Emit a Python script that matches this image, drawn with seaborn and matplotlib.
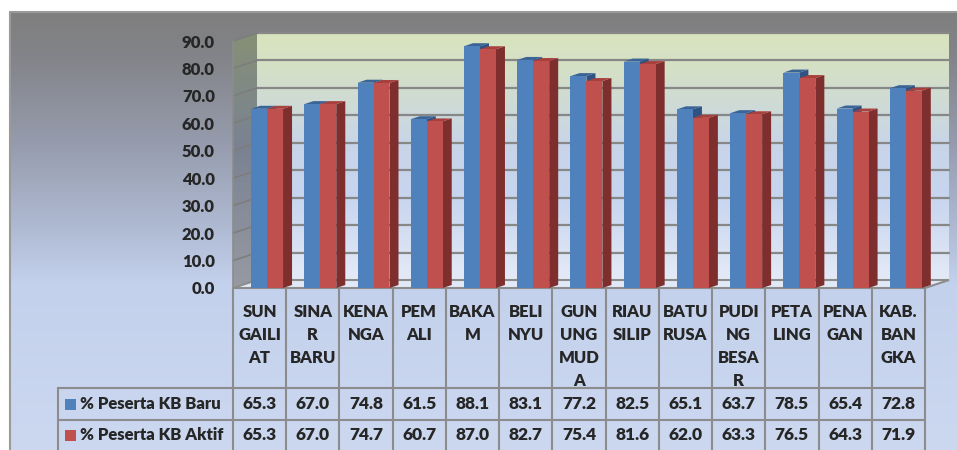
import numpy as np
import pandas as pd
import matplotlib
matplotlib.use('Agg')
import matplotlib.pyplot as plt
import seaborn as sns
from matplotlib.patches import Polygon, Rectangle

# data
kecamatan = ['SUNGAILIAT', 'SINAR BARU', 'KENANGA', 'PEMALI', 'BAKAM', 'BELINYU',
             'GUNUNG MUDA', 'RIAU SILIP', 'BATURUSA', 'PUDING BESAR', 'PETALING',
             'PENAGAN', 'KAB. BANGKA']
label_kolom = ['SUN\nGAILI\nAT', 'SINA\nR\nBARU', 'KENA\nNGA', 'PEM\nALI', 'BAKA\nM',
               'BELI\nNYU', 'GUN\nUNG\nMUD\nA', 'RIAU\nSILIP', 'BATU\nRUSA',
               'PUDI\nNG\nBESA\nR', 'PETA\nLING', 'PENA\nGAN', 'KAB.\nBAN\nGKA']
kb_baru = [65.3, 67.0, 74.8, 61.5, 88.1, 83.1, 77.2, 82.5, 65.1, 63.7, 78.5, 65.4, 72.8]
kb_aktif = [65.3, 67.0, 74.7, 60.7, 87.0, 82.7, 75.4, 81.6, 62.0, 63.3, 76.5, 64.3, 71.9]
seri = ['% Peserta KB Baru', '% Peserta KB Aktif']
y_ticks = [0, 10, 20, 30, 40, 50, 60, 70, 80, 90]

warna = ['#4f81bd', '#c0504d']
warna_atas = ['#3a6396', '#a8403d']
warna_sisi = ['#2f5283', '#7e2f2d']

sns.set_style('white')
plt.rcParams['font.family'] = ['Lato', 'DejaVu Sans']
TEBAL = 'heavy'

W, H = 957, 450
fig = plt.figure(figsize=(W / 100, H / 100), dpi=100)
bg = fig.add_axes([0, 0, 1, 1])
bg.set_autoscale_on(False)
bg.set_xlim(0, W)
bg.set_ylim(H, 0)
bg.axis('off')


def gradient(stops, x0, x1, y0, y1, clip=None, z=0):
    t = np.linspace(0, 1, 256)
    pos = [s[0] for s in stops]
    cols = np.stack([np.interp(t, pos, [s[1][c] for s in stops]) for c in range(3)], axis=-1) / 255
    im = bg.imshow(cols[:, None, :], extent=[x0, x1, y1, y0], aspect='auto',
                   interpolation='bilinear', zorder=z)
    if clip is not None:
        im.set_clip_path(Polygon(clip, transform=bg.transData))
    return im


# outer chart background
gradient([(0, (127, 127, 127)), (0.1, (131, 132, 137)), (0.3, (150, 156, 173)),
          (0.5, (176, 187, 212)), (0.62, (196, 209, 236)), (1, (204, 216, 240))],
         10, W, 12, H, z=0)
bg.plot([10, 10], [12, H], color='#9a9a9a', lw=1.5, zorder=1)
bg.plot([10, W], [12, 12], color='#9a9a9a', lw=1.5, zorder=1)

# plot area (front plane)
ax = fig.add_axes([233 / W, (H - 288) / H, 692 / W, 247 / H])
ax.patch.set_alpha(0)

df = pd.DataFrame({'Kecamatan': kecamatan * 2,
                   'Nilai': kb_baru + kb_aktif,
                   'Seri': [seri[0]] * len(kecamatan) + [seri[1]] * len(kecamatan)})
sns.barplot(data=df, x='Kecamatan', y='Nilai', hue='Seri', palette=warna, width=0.6,
            saturation=1, linewidth=0, legend=False, ax=ax)
ax.set_xlim(-0.64, 12.36)
ax.set_ylim(0, 90)
ax.set_yticks(y_ticks)
ax.set_yticklabels([f'{v:.1f}' for v in y_ticks], fontsize=12, fontweight=TEBAL)
ax.tick_params(axis='y', length=0, pad=13)
ax.set_xticks([])
ax.set_xlabel('')
ax.set_ylabel('')
for s in ax.spines.values():
    s.set_visible(False)


def to_px(x, y):
    d = ax.transData.transform((x, y))
    return d[0], H - d[1]


x_lo, x_hi = ax.get_xlim()
fl = to_px(x_lo, 0)
fr = to_px(x_hi, 0)
tl = to_px(x_lo, 90)
DX, DY = 24, 8

# back wall
gradient([(0, (216, 228, 190)), (0.15, (212, 224, 198)), (0.45, (200, 213, 232)),
          (0.65, (198, 212, 238)), (1, (228, 234, 247))],
         fl[0] + DX, fr[0] + DX, tl[1] - DY, fl[1] - DY, z=1)
# side wall
side = [fl, tl, (tl[0] + DX, tl[1] - DY), (fl[0] + DX, fl[1] - DY)]
gradient([(0, (134, 144, 118)), (0.45, (122, 130, 146)), (1, (150, 154, 162))],
         fl[0], fl[0] + DX, tl[1] - DY, fl[1], clip=side, z=1)
# floor
floor = [fl, fr, (fr[0] + DX, fr[1] - DY), (fl[0] + DX, fl[1] - DY)]
bg.add_patch(Polygon(floor, closed=True, facecolor='#e1e8f6', edgecolor='#8c8c8c',
                     lw=1.5, zorder=2))

# gridlines on back wall and side wall
for v in y_ticks[1:]:
    yf = to_px(x_lo, v)[1]
    bg.plot([fl[0] + DX, fr[0] + DX], [yf - DY, yf - DY], color='#878787', lw=1.6, zorder=2)
    bg.plot([fl[0], fl[0] + DX], [yf, yf - DY], color='#7d7d7d', lw=1.2, zorder=2)
bg.plot([fl[0], tl[0]], [fl[1], tl[1]], color='#8c8c8c', lw=1.2, zorder=2)

# 3D sides and tops of the bars
sx = to_px(1, 0)[0] - to_px(0, 0)[0]
sy = to_px(0, 0)[1] - to_px(0, 1)[1]
bdx, bdy = 9 / sx, 3 / sy
n = len(kecamatan)
for i, p in enumerate(ax.patches):
    k = 0 if i < n else 1
    x0, w, h = p.get_x(), p.get_width(), p.get_height()
    p.set_zorder(3)
    ax.add_patch(Polygon([(x0 + w, 0), (x0 + w, h), (x0 + w + bdx, h + bdy), (x0 + w + bdx, bdy)],
                         closed=True, facecolor=warna_sisi[k], lw=0, zorder=2.5, clip_on=False))
    ax.add_patch(Polygon([(x0, h), (x0 + w, h), (x0 + w + bdx, h + bdy), (x0 + bdx, h + bdy)],
                         closed=True, facecolor=warna_atas[k], lw=0, zorder=2.5, clip_on=False))

# data table
garis = '#8c8c8c'
xs = [to_px(x_lo + j, 0)[0] for j in range(n + 1)]
y_head, y_r1, y_r2, y_end = fl[1] + 1, 388, 420, 452
for xk in xs:
    bg.plot([xk, xk], [y_head, y_end], color=garis, lw=1.5, zorder=2)
bg.plot([58, 58], [y_r1, y_end], color=garis, lw=1.5, zorder=2)
for yk in [y_r1, y_r2]:
    bg.plot([58, xs[-1]], [yk, yk], color=garis, lw=1.5, zorder=2)

for j in range(n):
    xc = (xs[j] + xs[j + 1]) / 2
    bg.text(xc, 304, label_kolom[j], ha='center', va='top', fontsize=12,
            fontweight=TEBAL, linespacing=1.54, zorder=3)
    bg.text(xc, (y_r1 + y_r2) / 2, f'{kb_baru[j]:.1f}', ha='center', va='center',
            fontsize=12.5, fontweight=TEBAL, zorder=3)
    bg.text(xc, (y_r2 + y_end) / 2 - 1, f'{kb_aktif[j]:.1f}', ha='center', va='center',
            fontsize=12.5, fontweight=TEBAL, zorder=3)

for k, yk in enumerate([(y_r1 + y_r2) / 2, (y_r2 + y_end) / 2 - 1]):
    bg.add_patch(Rectangle((65, yk - 5.5), 11, 11, facecolor=warna[k], lw=0, zorder=3))
    bg.text(80, yk, seri[k], ha='left', va='center', fontsize=12, fontweight=TEBAL, zorder=3)

fig.savefig('out.png', dpi=100)
